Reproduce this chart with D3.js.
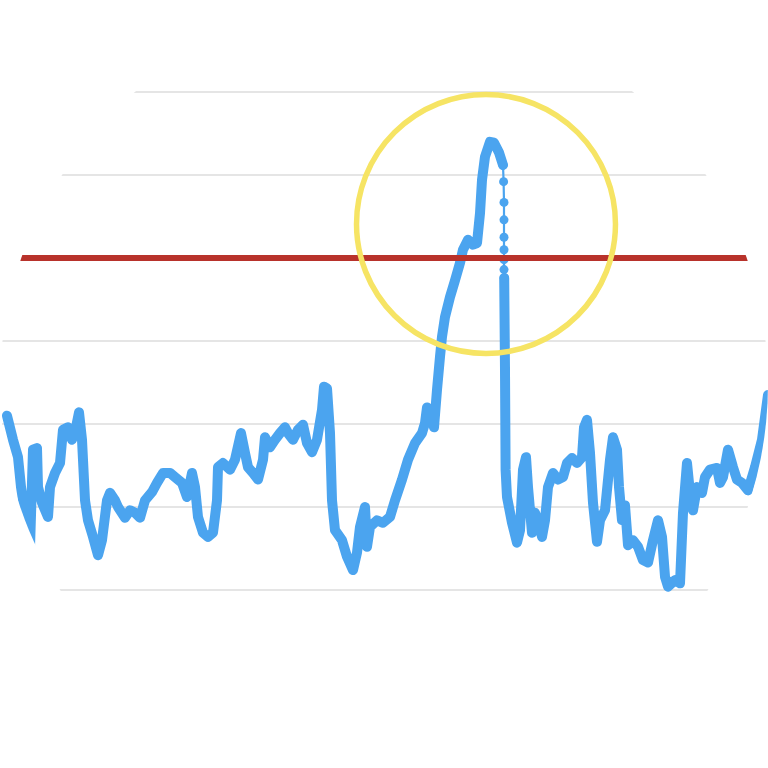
<!DOCTYPE html>
<html>
<head>
<meta charset="utf-8">
<script src="https://cdn.jsdelivr.net/npm/d3@7"></script>
<style>
  html, body { margin: 0; padding: 0; background: #ffffff; }
  svg { display: block; }
</style>
</head>
<body>
<script>
// ---- data ----
const gridValues = [0, 10, 20, 30, 40, 50, 60];
const threshold = 40;

// rising part up to the peak: [x, value]
const seriesBefore = [
  [1,21.0],[4,18.1],[6.5,16.0],[8,12.4],[10,9.3],[12.5,5.1],[14,16.9],[16,17.1],[16.5,12.4],
  [18.5,10.5],[21.5,8.8],[22.5,12.4],[25,14.1],[27.5,15.3],[29,19.3],[31.5,19.6],[33.5,18.1],
  [35.5,19.6],[37,21.4],[38.5,18.1],[40,10.8],[41.5,8.4],[44,6.4],[46.5,4.2],[48.5,6.0],
  [51,10.8],[52.5,11.7],[55,10.8],[56.5,10.0],[60,8.7],[62.5,9.6],[65,9.3],[67.5,8.7],
  [70,10.8],[73.5,11.8],[76,12.9],[79,14.1],[82.5,14.1],[85,13.6],[88.5,12.9],[91,11.2],
  [93.5,14.1],[95,12.4],[96.5,8.8],[99,6.9],[101.5,6.4],[104,6.9],[106,10.8],[106.5,14.8],
  [109,15.3],[112.5,14.5],[115,15.7],[118,18.9],[120,16.5],[121.5,14.8],[124,14.1],[126.5,13.3],
  [129,15.7],[130,18.4],[132.5,17.2],[135,18.1],[137.5,18.9],[140,19.6],[141.5,18.9],[144,18.1],
  [146.5,19.3],[149,19.9],[151,17.7],[153.5,16.6],[156,18.1],[158.5,21.7],[159.5,24.5],[161,24.3],
  [162.5,18.9],[163.5,10.8],[165,7.2],[168.5,6.0],[171,4.0],[174,2.4],[176,4.5],[177.5,7.6],
  [180,10.0],[181,5.2],[182.5,7.6],[186,8.4],[189,8.1],[192.5,8.8],[195,10.8],[198.5,13.3],
  [201.5,15.7],[205,17.7],[208.5,18.9],[210,20.1],[211,22.0],[212.5,21.7],[214.5,19.6],
  [216,24.1],[217.5,28.1],[218.5,30.5],[220,32.9],[222.5,35.3],[225,37.3],[227.5,39.4],
  [229,41.0],[231.5,42.2],[234,41.6],[236,41.8],[237.5,45.4],[238.5,49.4],[240,52.2],
  [242.5,54.0],[244.5,53.9],[247,52.7],[249,51.2]
];

// sparse points of the sudden drop after the peak
const dropSeries = [
  [249,51.2],[249.3,49.2],[249.5,46.7],[249.5,44.6],[249.5,42.5],[249.5,41.0],
  [249.5,39.8],[249.5,38.6],[249.6,37.6]
];

// after the drop
const seriesAfter = [
  [249.6,37.6],[250,26.5],[250.3,14.5],[251,11.2],[253.5,8.1],[256,5.7],[257.5,7.2],[259,14.5],
  [260.5,16.0],[261.5,12.4],[263.5,6.9],[265,9.3],[266.5,8.4],[268.5,6.4],[270,8.4],[271.5,12.4],
  [274,14.1],[276.5,13.3],[279,13.6],[281,15.3],[283.5,15.9],[286,15.3],[288.5,16.0],[289.5,19.6],
  [291,20.5],[292.5,16.5],[294,10.5],[296,5.8],[297.5,8.4],[300,9.6],[302.5,15.7],[304,18.4],
  [306,16.9],[307,12.4],[308.5,8.4],[310,10.2],[311.5,5.4],[314,6.0],[316.5,5.2],[319,3.6],
  [321.5,3.3],[324,6.0],[326.5,8.4],[328.5,6.4],[330,1.6],[331.5,0.4],[335,1.2],[337.5,0.8],
  [339,9.3],[341,15.3],[342.5,11.7],[344,9.6],[346,12.4],[348.5,11.7],[350,13.6],[352.5,14.5],
  [356,14.7],[357.5,12.9],[359,13.6],[361.5,16.9],[364,14.8],[366,13.3],[368.5,12.9],[371.5,12.0],
  [373.5,13.6],[375,14.8],[378.5,18.1],[381.5,23.5]
];

// annotation circle (in data units)
const highlight = { cx: 240.5, cy: 44.1, r: 15.6 };

// ---- drawing ----
const W = 768, H = 768;
const x = d3.scaleLinear().domain([0, 380]).range([5, 765]);
const y = d3.scaleLinear().domain([0, 60]).range([590, 92]);

const svg = d3.select("body").append("svg").attr("width", W).attr("height", H);

svg.append("defs").append("clipPath").attr("id", "round")
  .append("circle").attr("cx", W / 2).attr("cy", H / 2).attr("r", W / 2);

const g = svg.append("g").attr("clip-path", "url(#round)");

// gridlines
g.append("g").selectAll("line").data(gridValues).join("line")
  .attr("x1", 0).attr("x2", W)
  .attr("y1", d => y(d)).attr("y2", d => y(d))
  .attr("stroke", "#dcdcdc").attr("stroke-width", 1.6);

const blue = "#4ba4ef";
const line = d3.line().x(d => x(d[0])).y(d => y(d[1]));

[seriesBefore, seriesAfter].forEach(s => {
  g.append("path").datum(s).attr("d", line)
    .attr("fill", "none").attr("stroke", blue)
    .attr("stroke-width", 10).attr("stroke-linejoin", "round").attr("stroke-linecap", "round");
});

g.append("path").datum(dropSeries).attr("d", line)
  .attr("fill", "none").attr("stroke", blue).attr("stroke-width", 2.2);
g.append("g").selectAll("circle").data(dropSeries).join("circle")
  .attr("cx", d => x(d[0])).attr("cy", d => y(d[1])).attr("r", 4.5).attr("fill", blue);

// threshold line
g.append("line")
  .attr("x1", 0).attr("x2", W)
  .attr("y1", y(threshold)).attr("y2", y(threshold))
  .attr("stroke", "#b8322b").attr("stroke-width", 6);

// highlight circle
svg.append("circle")
  .attr("cx", x(highlight.cx)).attr("cy", y(highlight.cy))
  .attr("r", y(0) - y(highlight.r))
  .attr("fill", "none").attr("stroke", "#f6e464").attr("stroke-width", 5.5);
</script>
</body>
</html>
